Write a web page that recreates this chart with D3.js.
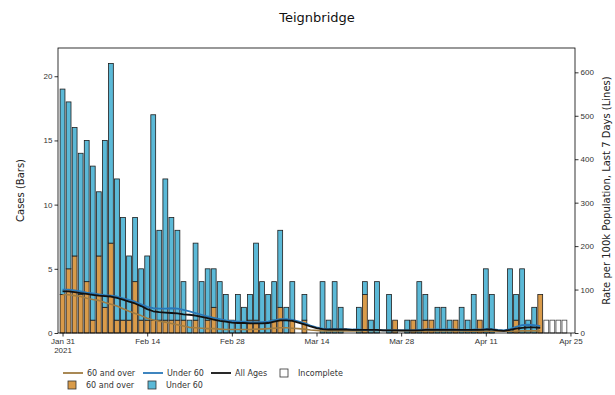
<!DOCTYPE html>
<html>
<head>
<meta charset="utf-8">
<script src="https://cdn.jsdelivr.net/npm/d3@7/dist/d3.min.js"></script>
<style>
  body { margin: 0; background: #fff; }
  svg { font-family: "DejaVu Sans", sans-serif; }
  .tick text { fill: #333; font-size: 8px; }
</style>
</head>
<body>
<div id="wrapper"></div>
<script>
// data, one entry per day starting Jan 31 2021
const startDate = new Date(2021, 0, 31);

const over60Cases = [3,5,6,3,4,1,6,2,7,1, 1,1,4,1,1,1,1,1,1,1,
  1,0,1,0,1,2,0,0,0,0, 0,1,1,0,0,1,2,0,1,0,
  1,0,0,0,0,0,0,0,0,0, 3,0,0,0,0,1,0,0,1,0,
  1,1,0,0,0,1,0,0,0,1, 0,0,0,0,0,1,0,0,0,3];

const under60Cases = [16,13,10,11,11,12,5,13,14,11, 8,5,5,4,5,16,7,11,8,7,
  3,1,6,4,4,3,4,3,1,3, 2,2,6,4,3,3,6,2,3,0,
  2,0,0,4,1,4,2,0,0,2, 1,1,4,0,3,0,0,1,0,4,
  2,0,2,2,1,0,2,1,3,0, 5,3,0,0,5,2,5,1,2,0];

// last days, not complete yet
const incompleteCases = [1,1,1,1];

// rate per 100k, last 7 days
const rateAllAges = [96,96,94,92,90,88,86,85,84,81, 77,72,68,62,55,50,48,47,46,45,
  43,42,40,37,34,31,28,26,24,23, 23,22,22,22,23,26,29,29,28,24,
  20,15,11,9,8,8,8,8,7,7, 7,7,7,6,6,6,6,6,6,6,
  7,7,7,7,7,7,7,7,7,7, 8,8,6,5,7,10,12,13,13,12];

const rateUnder60 = [100,100,98,96,93,91,89,87,86,84, 80,76,72,66,60,57,56,56,57,56,
  53,50,46,42,38,35,32,29,27,26, 26,25,25,25,26,29,32,32,30,27,
  23,17,13,10,9,9,9,9,8,8, 7,7,7,6,6,6,6,6,6,7,
  8,8,8,8,8,8,7,7,8,8, 9,9,7,6,9,14,18,19,18,16];

const rateOver60 = [88,88,86,84,80,77,75,70,66,62, 56,50,45,40,34,30,27,25,22,19,
  16,13,12,11,10,10,9,8,8,8, 8,8,9,9,10,11,12,12,11,10,
  9,7,6,5,5,5,5,5,5,5, 6,6,6,6,6,6,5,5,5,5,
  5,5,5,5,5,5,5,4,4,4, 4,4,4,4,4,4,5,5,5,5];

const xTickDates = ["2021-01-31","2021-02-14","2021-02-28","2021-03-14","2021-03-28","2021-04-11","2021-04-25"];
const casesTicks = [0,5,10,15,20];
const rateTicks = [0,100,200,300,400,500,600];

const colors = {
  over60Bar: "#d99b4a",
  under60Bar: "#5bb9d7",
  over60Line: "#a07c42",
  under60Line: "#2a78b8",
  allLine: "#111111",
  edge: "#1e1e1e",
};

const dayOf = i => d3.timeDay.offset(startDate, i);
const parseDay = d3.timeParse("%Y-%m-%d");

const days = over60Cases.map((o, i) => ({
  date: dayOf(i), over: o, under: under60Cases[i],
}));
const incompleteDays = incompleteCases.map((c, i) => ({
  date: dayOf(over60Cases.length + i), value: c,
}));

// dimensions
const dimensions = {
  width: 615,
  height: 395,
  margin: { top: 48, right: 40, bottom: 62, left: 58 },
};
dimensions.boundedWidth = dimensions.width - dimensions.margin.left - dimensions.margin.right;
dimensions.boundedHeight = dimensions.height - dimensions.margin.top - dimensions.margin.bottom;

const wrapper = d3.select("#wrapper")
  .append("svg")
    .attr("width", dimensions.width)
    .attr("height", dimensions.height);

const bounds = wrapper.append("g")
    .attr("transform", `translate(${dimensions.margin.left},${dimensions.margin.top})`);

// scales
const halfBar = 18 * 3600 * 1000; // 0.75 day
const xScale = d3.scaleTime()
  .domain([new Date(+startDate - halfBar), new Date(+parseDay("2021-04-25") + halfBar)])
  .range([0, dimensions.boundedWidth]);

const yScale = d3.scaleLinear()
  .domain([0, 22.2])
  .range([dimensions.boundedHeight, 0]);

const yRateScale = d3.scaleLinear()
  .domain([0, 656])
  .range([dimensions.boundedHeight, 0]);

const dayWidth = xScale(dayOf(1)) - xScale(dayOf(0));
const barWidth = dayWidth * 0.8;

// bars: 60 and over at the bottom, under 60 stacked on top
const bars = bounds.append("g").attr("class", "bars");

bars.selectAll(".over")
  .data(days.filter(d => d.over > 0))
  .join("rect")
    .attr("class", "over")
    .attr("x", d => xScale(d.date) - barWidth / 2)
    .attr("width", barWidth)
    .attr("y", d => yScale(d.over))
    .attr("height", d => yScale(0) - yScale(d.over))
    .attr("fill", colors.over60Bar)
    .attr("stroke", colors.edge)
    .attr("stroke-width", 0.8);

bars.selectAll(".under")
  .data(days.filter(d => d.under > 0))
  .join("rect")
    .attr("class", "under")
    .attr("x", d => xScale(d.date) - barWidth / 2)
    .attr("width", barWidth)
    .attr("y", d => yScale(d.over + d.under))
    .attr("height", d => yScale(d.over) - yScale(d.over + d.under))
    .attr("fill", colors.under60Bar)
    .attr("stroke", colors.edge)
    .attr("stroke-width", 0.8);

bars.selectAll(".incomplete")
  .data(incompleteDays)
  .join("rect")
    .attr("class", "incomplete")
    .attr("x", d => xScale(d.date) - barWidth / 2)
    .attr("width", barWidth)
    .attr("y", d => yScale(d.value))
    .attr("height", d => yScale(0) - yScale(d.value))
    .attr("fill", "#fff")
    .attr("stroke", "#444")
    .attr("stroke-width", 0.8);

// lines
const lineGenerator = series => d3.line()
  .x((d, i) => xScale(dayOf(i)))
  .y(d => yRateScale(d))(series);

const lineSeries = [
  { values: rateOver60, color: colors.over60Line, width: 1.6 },
  { values: rateUnder60, color: colors.under60Line, width: 1.8 },
  { values: rateAllAges, color: colors.allLine, width: 1.8 },
];
bounds.append("g").selectAll("path")
  .data(lineSeries)
  .join("path")
    .attr("d", d => lineGenerator(d.values))
    .attr("fill", "none")
    .attr("stroke", d => d.color)
    .attr("stroke-width", d => d.width)
    .attr("stroke-linejoin", "round");

// frame
bounds.append("rect")
    .attr("width", dimensions.boundedWidth)
    .attr("height", dimensions.boundedHeight)
    .attr("fill", "none")
    .attr("stroke", "#000")
    .attr("stroke-width", 0.8);

// axes
const xAxis = bounds.append("g")
    .attr("transform", `translate(0,${dimensions.boundedHeight})`)
    .call(d3.axisBottom(xScale)
      .tickValues(xTickDates.map(parseDay))
      .tickSize(3.5)
      .tickPadding(2)
      .tickFormat(d3.timeFormat("%b %d")));
xAxis.select(".domain").remove();
xAxis.selectAll(".tick line").attr("stroke", "#000").attr("stroke-width", 0.8);
xAxis.selectAll(".tick text").filter((d, i) => i === 0)
    .append("tspan")
    .attr("x", 0)
    .attr("dy", "1.15em")
    .text("2021");

const yAxis = bounds.append("g")
    .call(d3.axisLeft(yScale)
      .tickValues(casesTicks)
      .tickSize(3.5)
      .tickPadding(2));
yAxis.select(".domain").remove();
yAxis.selectAll(".tick line").attr("stroke", "#000").attr("stroke-width", 0.8);

const yRateAxis = bounds.append("g")
    .attr("transform", `translate(${dimensions.boundedWidth},0)`)
    .call(d3.axisRight(yRateScale)
      .tickValues(rateTicks)
      .tickSize(3.5)
      .tickPadding(2));
yRateAxis.select(".domain").remove();
yRateAxis.selectAll(".tick line").attr("stroke", "#000").attr("stroke-width", 0.8);

// labels
wrapper.append("text")
    .attr("x", 317)
    .attr("y", 22)
    .attr("text-anchor", "middle")
    .style("font-size", "13px")
    .attr("fill", "#111")
    .text("Teignbridge");

wrapper.append("text")
    .attr("transform", `translate(24,${dimensions.margin.top + dimensions.boundedHeight / 2}) rotate(-90)`)
    .attr("text-anchor", "middle")
    .style("font-size", "10px")
    .attr("fill", "#222")
    .text("Cases (Bars)");

wrapper.append("text")
    .attr("transform", `translate(610,${dimensions.margin.top + dimensions.boundedHeight / 2}) rotate(-90)`)
    .attr("text-anchor", "middle")
    .style("font-size", "10px")
    .attr("fill", "#222")
    .text("Rate per 100k Population, Last 7 Days (Lines)");

// legend
const legend = wrapper.append("g").style("font-size", "8px");
const legendItems = [
  { type: "line", color: colors.over60Line, label: "60 and over", x: 63, y: 373 },
  { type: "line", color: colors.under60Line, label: "Under 60", x: 143, y: 373 },
  { type: "line", color: colors.allLine, label: "All Ages", x: 211, y: 373 },
  { type: "box", color: "#fff", label: "Incomplete", x: 278, y: 373 },
  { type: "box", color: colors.over60Bar, label: "60 and over", x: 66, y: 385 },
  { type: "box", color: colors.under60Bar, label: "Under 60", x: 146, y: 385 },
];
const items = legend.selectAll("g")
  .data(legendItems)
  .join("g")
    .attr("transform", d => `translate(${d.x},${d.y})`);

items.filter(d => d.type === "line").append("line")
    .attr("x1", 0).attr("x2", 20)
    .attr("stroke", d => d.color)
    .attr("stroke-width", 1.8);
items.filter(d => d.type === "box").append("rect")
    .attr("x", 2).attr("y", -4)
    .attr("width", 8).attr("height", 8)
    .attr("fill", d => d.color)
    .attr("stroke", "#333")
    .attr("stroke-width", 0.8);
items.append("text")
    .attr("x", d => d.type === "line" ? 24 : 20)
    .attr("y", 3)
    .attr("fill", "#333")
    .text(d => d.label);
</script>
</body>
</html>
